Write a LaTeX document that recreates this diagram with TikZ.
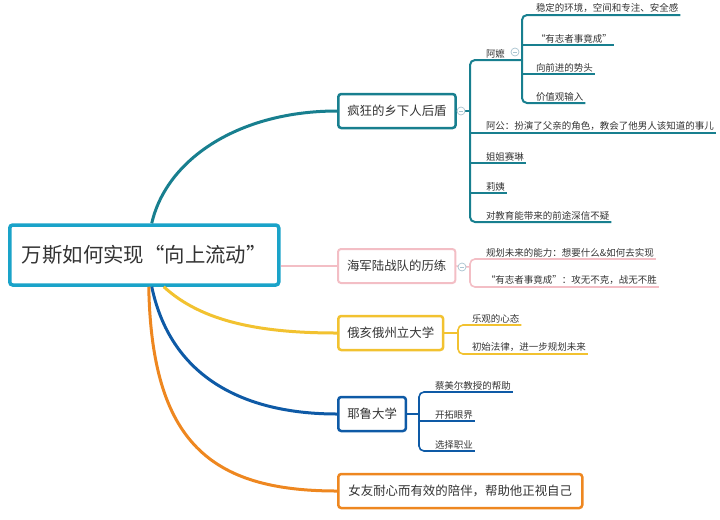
\documentclass[tikz,border=0pt]{standalone}
\usepackage{fontspec}
\newfontfamily\cjk{Noto Sans CJK SC}
\usetikzlibrary{positioning}
\definecolor{RootBlue}{HTML}{1AA3C9}
\definecolor{KinTeal}{HTML}{187F8F}
\definecolor{NavyPink}{HTML}{F3BEC5}
\definecolor{OhioYellow}{HTML}{F2C230}
\definecolor{YaleBlue}{HTML}{0E5AA6}
\definecolor{GirlOrange}{HTML}{EE8720}
\definecolor{InkGray}{HTML}{333333}
\definecolor{FoldGray}{HTML}{A9C4D0}
\newlength{\pxu}
\setlength{\pxu}{0.03cm}
\tikzset{
  rootbox/.style={draw=RootBlue, line width=3.5\pxu, rounded corners=3\pxu,
    fill=white, text=InkGray, font=\cjk\fontsize{17.4}{21}\selectfont,
    minimum width=269\pxu, minimum height=60\pxu, anchor=west},
  topicbox/.style={draw=#1, line width=2.5\pxu, rounded corners=3\pxu,
    fill=white, text=InkGray, font=\cjk\fontsize{10.6}{13}\selectfont,
    minimum height=34\pxu, inner xsep=9\pxu, anchor=west},
  leaf/.style={text=InkGray, font=\cjk\fontsize{8.1}{10}\selectfont,
    inner xsep=2\pxu, inner ysep=1.8pt, outer sep=0pt, anchor=south west},
  fold/.style={circle, draw=FoldGray, fill=white, minimum size=8\pxu,
    inner sep=0pt, line width=0.6pt,
    path picture={\draw[FoldGray, line width=0.5pt]
      ([xshift=-1.5pt]path picture bounding box.center) --
      ([xshift=1.5pt]path picture bounding box.center);}},
  trunk/.style={line width=3\pxu},
  twig/.style={line width=#1\pxu, rounded corners=5\pxu},
  twig/.default=1.6
}
\begin{document}
\begin{tikzpicture}[x=1\pxu, y=-1\pxu]
  \useasboundingbox (0,0) rectangle (720,519);

  \node[rootbox] (root) at (8,255) {万斯如何实现“向上流动”};
  \node[topicbox=KinTeal] (kin) at (337,111) {疯狂的乡下人后盾};
  \node[topicbox=NavyPink, line width=2\pxu] (navy) at (337,266) {海军陆战队的历练};
  \node[topicbox=OhioYellow] (ohio) at (337,333) {俄亥俄州立大学};
  \node[topicbox=YaleBlue] (yale) at (337,414) {耶鲁大学};
  \node[topicbox=GirlOrange, minimum width=244\pxu] (girl) at (337,491)
    {女友耐心而有效的陪伴，帮助他正视自己};

  % main branches
  \draw[trunk, KinTeal] ([xshift=7.5\pxu]root.north)
    .. controls +(15,-65) and +(-97,0) .. (kin.west);
  \draw[NavyPink, line width=2\pxu] (root.east |- navy.west) -- (navy.west);
  \draw[trunk, OhioYellow] ([xshift=19.5\pxu]root.south)
    .. controls +(38,35) and +(-77,0) .. (ohio.west);
  \draw[trunk, YaleBlue] ([xshift=7.5\pxu]root.south)
    .. controls +(20,95) and +(-87,0) .. (yale.west);
  \draw[trunk, GirlOrange] ([xshift=4.5\pxu]root.south)
    .. controls +(3,155) and +(-127,0) .. (girl.west);

  % hillbilly part
  \coordinate (kinfork) at (470,111);
  \coordinate (amafork) at (522,60);
  \node[leaf] (ama) at (484,60) {阿嬷};
  \node[leaf] (agong) at (484,133) {阿公：扮演了父亲的角色，教会了他男人该知道的事儿};
  \node[leaf] (lindsay) at (484,163) {姐姐赛琳};
  \node[leaf] (aunt) at (484,193) {莉姨};
  \node[leaf] (faith) at (484,222) {对教育能带来的前途深信不疑};
  \draw[twig=2, KinTeal] (kin.east) -- (kinfork);
  \draw[twig=2, KinTeal] (kinfork) |- (amafork);
  \draw[twig=2, KinTeal] (kinfork) |- (faith.south east);
  \foreach \leafname in {agong,lindsay,aunt}
    \draw[twig=2, KinTeal] (kinfork |- \leafname.south) -- (\leafname.south east);
  \node[fold] (kinfold) at (461,111) {};

  \node[leaf] (calm) at (534,15) {稳定的环境，空间和专注、安全感};
  \node[leaf] (will) at (534,45) {“有志者事竟成”};
  \node[leaf] (drive) at (534,74) {向前进的势头};
  \node[leaf] (value) at (534,103) {价值观输入};
  \draw[twig=2, KinTeal] (amafork) |- (calm.south east);
  \draw[twig=2, KinTeal] (amafork) |- (value.south east);
  \foreach \leafname in {will,drive}
    \draw[twig=2, KinTeal] (amafork |- \leafname.south) -- (\leafname.south east);
  \node[fold] (amafold) at (515,52) {};

  % marines part
  \coordinate (navyfork) at (470,267);
  \node[leaf] (plan) at (484,259) {规划未来的能力：想要什么\&如何去实现};
  \node[leaf] (never) at (484,287) {“有志者事竟成”：攻无不克，战无不胜};
  \draw[twig, NavyPink] (navy.east) -- (navyfork);
  \draw[twig, NavyPink] (navyfork) |- (plan.south east);
  \draw[twig, NavyPink] (navyfork) |- (never.south east);
  \node[fold] (navyfold) at (462,267) {};

  % ohio part
  \coordinate (ohiofork) at (458,333);
  \node[leaf] (hope) at (470,325) {乐观的心态};
  \node[leaf] (law) at (470,354) {初始法律，进一步规划未来};
  \draw[twig, OhioYellow] (ohio.east) -- (ohiofork);
  \draw[twig, OhioYellow] (ohiofork) |- (hope.south east);
  \draw[twig, OhioYellow] (ohiofork) |- (law.south east);

  % yale part
  \coordinate (yalefork) at (419,414);
  \node[leaf] (chua) at (433,392) {蔡美尔教授的帮助};
  \node[leaf] (eyes) at (433,421) {开拓眼界};
  \node[leaf] (career) at (433,451) {选择职业};
  \draw[twig, YaleBlue] (yale.east) -- (yalefork);
  \draw[twig, YaleBlue] (yalefork) |- (chua.south east);
  \draw[twig, YaleBlue] (yalefork) |- (career.south east);
  \draw[twig, YaleBlue] (yalefork |- eyes.south) -- (eyes.south east);
\end{tikzpicture}
\end{document}
